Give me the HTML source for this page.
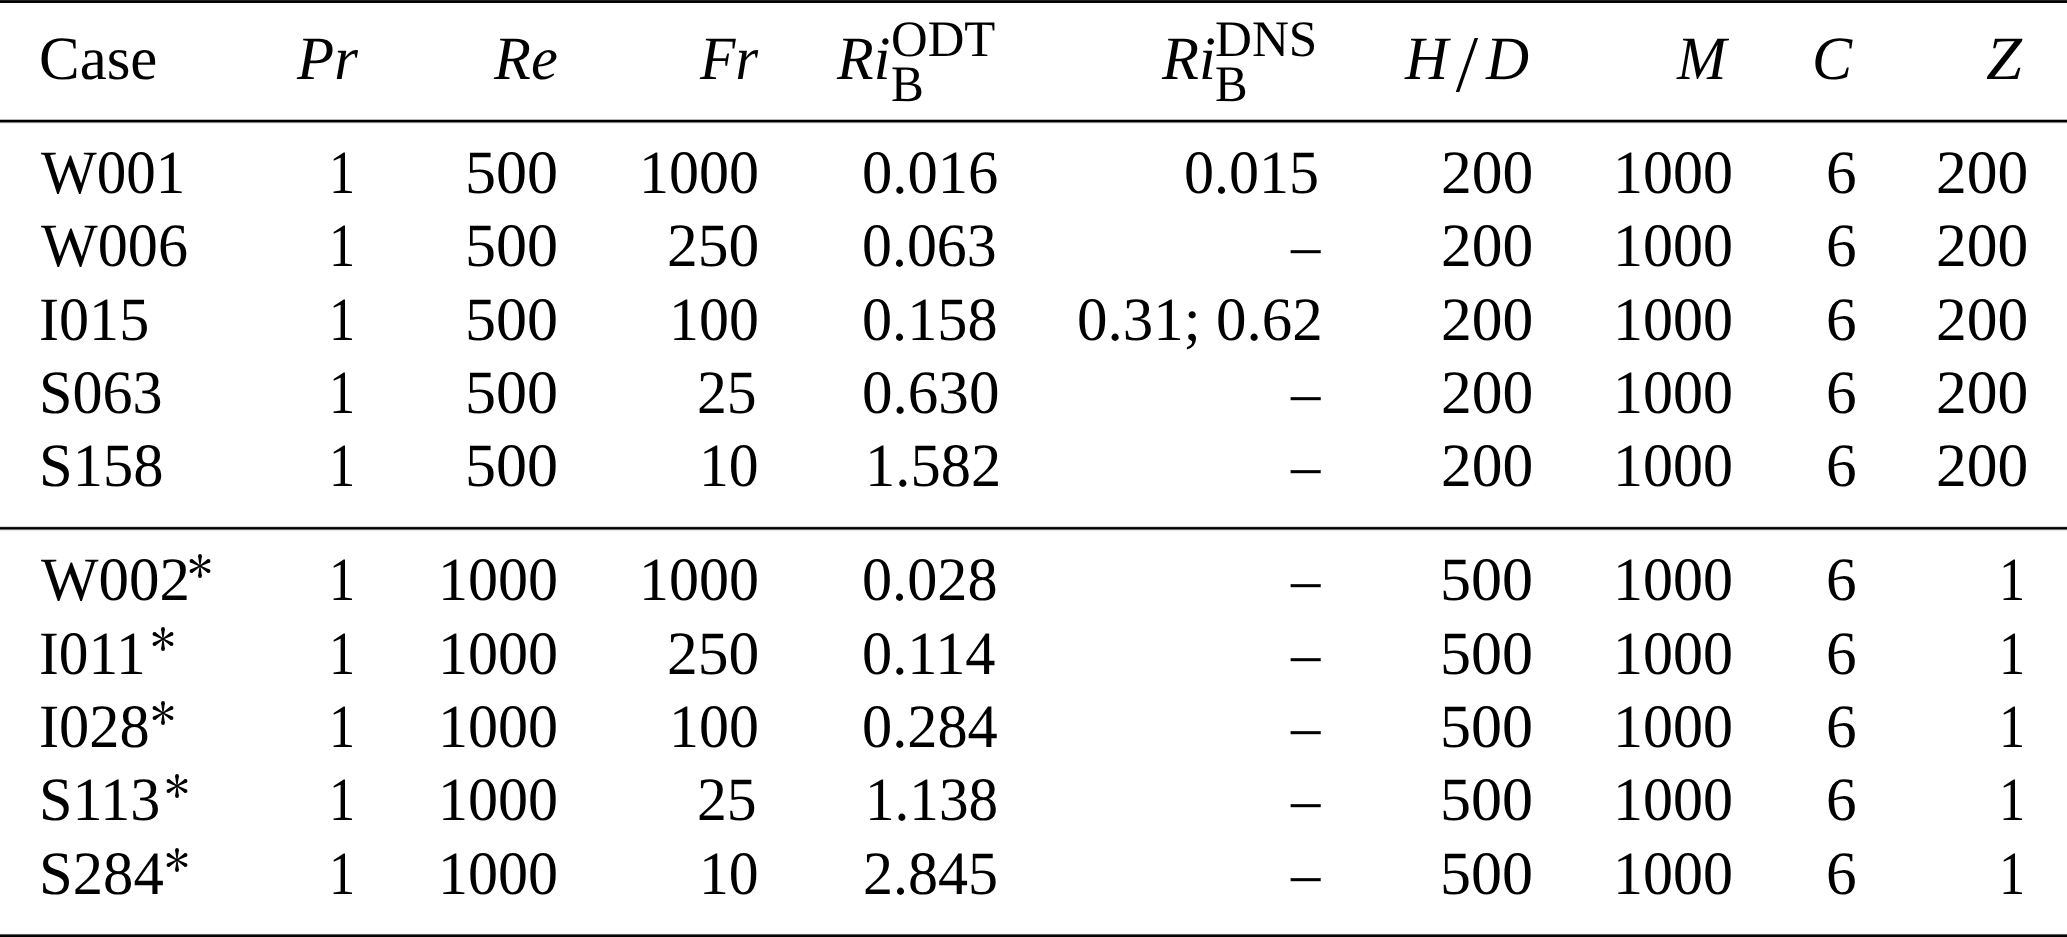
<!DOCTYPE html>
<html><head><meta charset="utf-8"><style>
html,body{margin:0;padding:0;background:#fff;}
body{width:2067px;height:937px;position:relative;overflow:hidden;font-family:"Liberation Serif",serif;color:#000;}
span{position:absolute;line-height:0;white-space:nowrap;text-rendering:geometricPrecision;}
.r{position:absolute;left:0;width:2067px;height:1px;}
.sl{position:absolute;left:0;top:0;}
.st{position:absolute;}
</style></head><body>
<div class="r" style="top:0px;background:rgb(34,34,34)"></div><div class="r" style="top:1px;background:rgb(0,0,0)"></div><div class="r" style="top:2px;background:rgb(10,10,10)"></div><div class="r" style="top:3px;background:rgb(250,250,250)"></div><div class="r" style="top:118px;background:rgb(253,253,253)"></div><div class="r" style="top:119px;background:rgb(184,184,184)"></div><div class="r" style="top:120px;background:rgb(0,0,0)"></div><div class="r" style="top:121px;background:rgb(0,0,0)"></div><div class="r" style="top:122px;background:rgb(128,128,128)"></div><div class="r" style="top:123px;background:rgb(240,240,240)"></div><div class="r" style="top:526px;background:rgb(216,216,216)"></div><div class="r" style="top:527px;background:rgb(24,24,24)"></div><div class="r" style="top:528px;background:rgb(0,0,0)"></div><div class="r" style="top:529px;background:rgb(112,112,112)"></div><div class="r" style="top:530px;background:rgb(232,232,232)"></div><div class="r" style="top:933px;background:rgb(248,248,248)"></div><div class="r" style="top:934px;background:rgb(96,96,96)"></div><div class="r" style="top:935px;background:rgb(6,6,6)"></div><div class="r" style="top:936px;background:rgb(0,0,0)"></div>
<svg class="sl" width="2067" height="937"><polygon points="1474.6,38.1 1478.1,38.1 1459.3,91.9 1455.8,91.9" fill="#000"/></svg>
<span style="left:38.70px;top:59.00px;font-size:61.5px;transform-origin:0 0;transform:scaleX(0.9905);">Case</span><span style="left:297.23px;top:59.00px;font-size:61.5px;font-style:italic;transform-origin:0 0;transform:scaleX(0.9885);">Pr</span><span style="left:493.82px;top:59.00px;font-size:61.5px;font-style:italic;transform-origin:0 0;transform:scaleX(0.9826);">Re</span><span style="left:700.01px;top:59.00px;font-size:61.5px;font-style:italic;transform-origin:0 0;transform:scaleX(0.9434);">Fr</span><span style="left:837.22px;top:59.00px;font-size:61.5px;font-style:italic;transform-origin:0 0;transform:scaleX(0.9751);">Ri</span><span style="left:891.42px;top:40.00px;font-size:51.0px;transform-origin:0 0;transform:scaleX(0.9953);">ODT</span><span style="left:890.78px;top:85.00px;font-size:51.0px;transform-origin:0 0;transform:scaleX(0.9648);">B</span><span style="left:1162.03px;top:59.00px;font-size:61.5px;font-style:italic;transform-origin:0 0;transform:scaleX(0.9845);">Ri</span><span style="left:1215.23px;top:40.00px;font-size:51.0px;transform-origin:0 0;transform:scaleX(1.0021);">DNS</span><span style="left:1215.29px;top:85.00px;font-size:51.0px;transform-origin:0 0;transform:scaleX(0.9582);">B</span><span style="left:1404.54px;top:59.00px;font-size:61.5px;font-style:italic;transform-origin:0 0;transform:scaleX(0.9721);">H</span><span style="left:1485.67px;top:59.00px;font-size:61.5px;font-style:italic;transform-origin:0 0;transform:scaleX(0.9689);">D</span><span style="left:1676.89px;top:59.00px;font-size:61.5px;font-style:italic;transform-origin:0 0;transform:scaleX(0.9640);">M</span><span style="left:1811.65px;top:59.00px;font-size:61.5px;font-style:italic;transform-origin:0 0;transform:scaleX(0.9773);">C</span><span style="left:1986.48px;top:59.00px;font-size:61.5px;font-style:italic;transform-origin:0 0;transform:scaleX(1.0500);">Z</span><span style="left:40.54px;top:173.00px;font-size:61.5px;transform-origin:0 0;transform:scaleX(0.9600);">W001</span><span style="left:329.08px;top:173.00px;font-size:61.5px;transform-origin:0 0;transform:scaleX(0.8500);">1</span><span style="left:465.48px;top:173.00px;font-size:61.5px;transform-origin:0 0;transform:scaleX(1.0086);">500</span><span style="left:638.92px;top:173.00px;font-size:61.5px;transform-origin:0 0;transform:scaleX(0.9758);">1000</span><span style="left:862.46px;top:173.00px;font-size:61.5px;transform-origin:0 0;transform:scaleX(0.9858);">0.016</span><span style="left:1183.98px;top:173.00px;font-size:61.5px;transform-origin:0 0;transform:scaleX(0.9765);">0.015</span><span style="left:1440.66px;top:173.00px;font-size:61.5px;transform-origin:0 0;transform:scaleX(0.9999);">200</span><span style="left:1612.72px;top:173.00px;font-size:61.5px;transform-origin:0 0;transform:scaleX(0.9758);">1000</span><span style="left:1826.47px;top:173.00px;font-size:61.5px;transform-origin:0 0;transform:scaleX(0.9960);">6</span><span style="left:1935.91px;top:173.00px;font-size:61.5px;transform-origin:0 0;transform:scaleX(0.9999);">200</span><span style="left:40.54px;top:246.00px;font-size:61.5px;transform-origin:0 0;transform:scaleX(0.9780);">W006</span><span style="left:329.08px;top:246.00px;font-size:61.5px;transform-origin:0 0;transform:scaleX(0.8500);">1</span><span style="left:465.48px;top:246.00px;font-size:61.5px;transform-origin:0 0;transform:scaleX(1.0086);">500</span><span style="left:666.76px;top:246.00px;font-size:61.5px;transform-origin:0 0;transform:scaleX(0.9999);">250</span><span style="left:862.49px;top:246.00px;font-size:61.5px;transform-origin:0 0;transform:scaleX(0.9733);">0.063</span><span style="left:1290.75px;top:246.00px;font-size:61.5px;transform-origin:0 0;transform:scaleX(0.9544);">–</span><span style="left:1440.66px;top:246.00px;font-size:61.5px;transform-origin:0 0;transform:scaleX(0.9999);">200</span><span style="left:1612.72px;top:246.00px;font-size:61.5px;transform-origin:0 0;transform:scaleX(0.9758);">1000</span><span style="left:1826.47px;top:246.00px;font-size:61.5px;transform-origin:0 0;transform:scaleX(0.9960);">6</span><span style="left:1935.91px;top:246.00px;font-size:61.5px;transform-origin:0 0;transform:scaleX(0.9999);">200</span><span style="left:39.21px;top:320.00px;font-size:61.5px;transform-origin:0 0;transform:scaleX(0.9778);">I015</span><span style="left:329.08px;top:320.00px;font-size:61.5px;transform-origin:0 0;transform:scaleX(0.8500);">1</span><span style="left:465.48px;top:320.00px;font-size:61.5px;transform-origin:0 0;transform:scaleX(1.0086);">500</span><span style="left:669.08px;top:320.00px;font-size:61.5px;transform-origin:0 0;transform:scaleX(0.9740);">100</span><span style="left:862.48px;top:320.00px;font-size:61.5px;transform-origin:0 0;transform:scaleX(0.9792);">0.158</span><span style="left:1076.74px;top:320.00px;font-size:61.5px;transform-origin:0 0;transform:scaleX(0.9916);">0.31; 0.62</span><span style="left:1440.66px;top:320.00px;font-size:61.5px;transform-origin:0 0;transform:scaleX(0.9999);">200</span><span style="left:1612.72px;top:320.00px;font-size:61.5px;transform-origin:0 0;transform:scaleX(0.9758);">1000</span><span style="left:1826.47px;top:320.00px;font-size:61.5px;transform-origin:0 0;transform:scaleX(0.9960);">6</span><span style="left:1935.91px;top:320.00px;font-size:61.5px;transform-origin:0 0;transform:scaleX(0.9999);">200</span><span style="left:38.81px;top:393.00px;font-size:61.5px;transform-origin:0 0;transform:scaleX(0.9779);">S063</span><span style="left:329.08px;top:393.00px;font-size:61.5px;transform-origin:0 0;transform:scaleX(0.8500);">1</span><span style="left:465.48px;top:393.00px;font-size:61.5px;transform-origin:0 0;transform:scaleX(1.0086);">500</span><span style="left:696.99px;top:393.00px;font-size:61.5px;transform-origin:0 0;transform:scaleX(0.9709);">25</span><span style="left:862.45px;top:393.00px;font-size:61.5px;transform-origin:0 0;transform:scaleX(0.9932);">0.630</span><span style="left:1290.75px;top:393.00px;font-size:61.5px;transform-origin:0 0;transform:scaleX(0.9544);">–</span><span style="left:1440.66px;top:393.00px;font-size:61.5px;transform-origin:0 0;transform:scaleX(0.9999);">200</span><span style="left:1612.72px;top:393.00px;font-size:61.5px;transform-origin:0 0;transform:scaleX(0.9758);">1000</span><span style="left:1826.47px;top:393.00px;font-size:61.5px;transform-origin:0 0;transform:scaleX(0.9960);">6</span><span style="left:1935.91px;top:393.00px;font-size:61.5px;transform-origin:0 0;transform:scaleX(0.9999);">200</span><span style="left:38.78px;top:466.00px;font-size:61.5px;transform-origin:0 0;transform:scaleX(0.9844);">S158</span><span style="left:329.08px;top:466.00px;font-size:61.5px;transform-origin:0 0;transform:scaleX(0.8500);">1</span><span style="left:465.48px;top:466.00px;font-size:61.5px;transform-origin:0 0;transform:scaleX(1.0086);">500</span><span style="left:699.25px;top:466.00px;font-size:61.5px;transform-origin:0 0;transform:scaleX(0.9704);">10</span><span style="left:864.70px;top:466.00px;font-size:61.5px;transform-origin:0 0;transform:scaleX(0.9838);">1.582</span><span style="left:1290.75px;top:466.00px;font-size:61.5px;transform-origin:0 0;transform:scaleX(0.9544);">–</span><span style="left:1440.66px;top:466.00px;font-size:61.5px;transform-origin:0 0;transform:scaleX(0.9999);">200</span><span style="left:1612.72px;top:466.00px;font-size:61.5px;transform-origin:0 0;transform:scaleX(0.9758);">1000</span><span style="left:1826.47px;top:466.00px;font-size:61.5px;transform-origin:0 0;transform:scaleX(0.9960);">6</span><span style="left:1935.91px;top:466.00px;font-size:61.5px;transform-origin:0 0;transform:scaleX(0.9999);">200</span><span style="left:40.54px;top:580.00px;font-size:61.5px;transform-origin:0 0;transform:scaleX(0.9913);">W002</span><svg class="st" style="left:185.92px;top:551.75px" width="28" height="28" viewBox="-14 -14 28 28"><g fill="#000"><path d="M0.45,0.00 L1.90,-10.05 L-1.90,-10.05 L-0.45,-0.00Z"/><circle cx="0.00" cy="-10.05" r="1.9"/><path d="M-0.45,0.00 L-1.90,10.05 L1.90,10.05 L0.45,-0.00Z"/><circle cx="0.00" cy="10.05" r="1.9"/><path d="M0.23,0.39 L9.52,-3.47 L7.58,-6.73 L-0.23,-0.39Z"/><circle cx="8.55" cy="-5.10" r="1.9"/><path d="M-0.23,0.39 L7.58,6.73 L9.52,3.47 L0.23,-0.39Z"/><circle cx="8.55" cy="5.10" r="1.9"/><path d="M0.23,-0.39 L-7.58,-6.73 L-9.52,-3.47 L-0.23,0.39Z"/><circle cx="-8.55" cy="-5.10" r="1.9"/><path d="M-0.23,-0.39 L-9.52,3.47 L-7.58,6.73 L0.23,0.39Z"/><circle cx="-8.55" cy="5.10" r="1.9"/></g></svg><span style="left:329.08px;top:580.00px;font-size:61.5px;transform-origin:0 0;transform:scaleX(0.8500);">1</span><span style="left:438.42px;top:580.00px;font-size:61.5px;transform-origin:0 0;transform:scaleX(0.9758);">1000</span><span style="left:638.92px;top:580.00px;font-size:61.5px;transform-origin:0 0;transform:scaleX(0.9758);">1000</span><span style="left:862.48px;top:580.00px;font-size:61.5px;transform-origin:0 0;transform:scaleX(0.9792);">0.028</span><span style="left:1290.75px;top:580.00px;font-size:61.5px;transform-origin:0 0;transform:scaleX(0.9544);">–</span><span style="left:1439.88px;top:580.00px;font-size:61.5px;transform-origin:0 0;transform:scaleX(1.0086);">500</span><span style="left:1612.72px;top:580.00px;font-size:61.5px;transform-origin:0 0;transform:scaleX(0.9758);">1000</span><span style="left:1826.47px;top:580.00px;font-size:61.5px;transform-origin:0 0;transform:scaleX(0.9960);">6</span><span style="left:1998.53px;top:580.00px;font-size:61.5px;transform-origin:0 0;transform:scaleX(0.8500);">1</span><span style="left:39.24px;top:654.00px;font-size:61.5px;transform-origin:0 0;transform:scaleX(0.9648);">I011</span><svg class="st" style="left:149.08px;top:625.20px" width="28" height="28" viewBox="-14 -14 28 28"><g fill="#000"><path d="M0.45,0.00 L1.90,-10.05 L-1.90,-10.05 L-0.45,-0.00Z"/><circle cx="0.00" cy="-10.05" r="1.9"/><path d="M-0.45,0.00 L-1.90,10.05 L1.90,10.05 L0.45,-0.00Z"/><circle cx="0.00" cy="10.05" r="1.9"/><path d="M0.23,0.39 L9.52,-3.47 L7.58,-6.73 L-0.23,-0.39Z"/><circle cx="8.55" cy="-5.10" r="1.9"/><path d="M-0.23,0.39 L7.58,6.73 L9.52,3.47 L0.23,-0.39Z"/><circle cx="8.55" cy="5.10" r="1.9"/><path d="M0.23,-0.39 L-7.58,-6.73 L-9.52,-3.47 L-0.23,0.39Z"/><circle cx="-8.55" cy="-5.10" r="1.9"/><path d="M-0.23,-0.39 L-9.52,3.47 L-7.58,6.73 L0.23,0.39Z"/><circle cx="-8.55" cy="5.10" r="1.9"/></g></svg><span style="left:329.08px;top:654.00px;font-size:61.5px;transform-origin:0 0;transform:scaleX(0.8500);">1</span><span style="left:438.42px;top:654.00px;font-size:61.5px;transform-origin:0 0;transform:scaleX(0.9758);">1000</span><span style="left:666.76px;top:654.00px;font-size:61.5px;transform-origin:0 0;transform:scaleX(0.9999);">250</span><span style="left:862.47px;top:654.00px;font-size:61.5px;transform-origin:0 0;transform:scaleX(0.9813);">0.114</span><span style="left:1290.75px;top:654.00px;font-size:61.5px;transform-origin:0 0;transform:scaleX(0.9544);">–</span><span style="left:1439.88px;top:654.00px;font-size:61.5px;transform-origin:0 0;transform:scaleX(1.0086);">500</span><span style="left:1612.72px;top:654.00px;font-size:61.5px;transform-origin:0 0;transform:scaleX(0.9758);">1000</span><span style="left:1826.47px;top:654.00px;font-size:61.5px;transform-origin:0 0;transform:scaleX(0.9960);">6</span><span style="left:1998.53px;top:654.00px;font-size:61.5px;transform-origin:0 0;transform:scaleX(0.8500);">1</span><span style="left:39.21px;top:727.00px;font-size:61.5px;transform-origin:0 0;transform:scaleX(0.9812);">I028</span><svg class="st" style="left:149.08px;top:698.65px" width="28" height="28" viewBox="-14 -14 28 28"><g fill="#000"><path d="M0.45,0.00 L1.90,-10.05 L-1.90,-10.05 L-0.45,-0.00Z"/><circle cx="0.00" cy="-10.05" r="1.9"/><path d="M-0.45,0.00 L-1.90,10.05 L1.90,10.05 L0.45,-0.00Z"/><circle cx="0.00" cy="10.05" r="1.9"/><path d="M0.23,0.39 L9.52,-3.47 L7.58,-6.73 L-0.23,-0.39Z"/><circle cx="8.55" cy="-5.10" r="1.9"/><path d="M-0.23,0.39 L7.58,6.73 L9.52,3.47 L0.23,-0.39Z"/><circle cx="8.55" cy="5.10" r="1.9"/><path d="M0.23,-0.39 L-7.58,-6.73 L-9.52,-3.47 L-0.23,0.39Z"/><circle cx="-8.55" cy="-5.10" r="1.9"/><path d="M-0.23,-0.39 L-9.52,3.47 L-7.58,6.73 L0.23,0.39Z"/><circle cx="-8.55" cy="5.10" r="1.9"/></g></svg><span style="left:329.08px;top:727.00px;font-size:61.5px;transform-origin:0 0;transform:scaleX(0.8500);">1</span><span style="left:438.42px;top:727.00px;font-size:61.5px;transform-origin:0 0;transform:scaleX(0.9758);">1000</span><span style="left:669.08px;top:727.00px;font-size:61.5px;transform-origin:0 0;transform:scaleX(0.9740);">100</span><span style="left:862.47px;top:727.00px;font-size:61.5px;transform-origin:0 0;transform:scaleX(0.9813);">0.284</span><span style="left:1290.75px;top:727.00px;font-size:61.5px;transform-origin:0 0;transform:scaleX(0.9544);">–</span><span style="left:1439.88px;top:727.00px;font-size:61.5px;transform-origin:0 0;transform:scaleX(1.0086);">500</span><span style="left:1612.72px;top:727.00px;font-size:61.5px;transform-origin:0 0;transform:scaleX(0.9758);">1000</span><span style="left:1826.47px;top:727.00px;font-size:61.5px;transform-origin:0 0;transform:scaleX(0.9960);">6</span><span style="left:1998.53px;top:727.00px;font-size:61.5px;transform-origin:0 0;transform:scaleX(0.8500);">1</span><span style="left:38.81px;top:800.00px;font-size:61.5px;transform-origin:0 0;transform:scaleX(0.9779);">S113</span><svg class="st" style="left:162.53px;top:772.10px" width="28" height="28" viewBox="-14 -14 28 28"><g fill="#000"><path d="M0.45,0.00 L1.90,-10.05 L-1.90,-10.05 L-0.45,-0.00Z"/><circle cx="0.00" cy="-10.05" r="1.9"/><path d="M-0.45,0.00 L-1.90,10.05 L1.90,10.05 L0.45,-0.00Z"/><circle cx="0.00" cy="10.05" r="1.9"/><path d="M0.23,0.39 L9.52,-3.47 L7.58,-6.73 L-0.23,-0.39Z"/><circle cx="8.55" cy="-5.10" r="1.9"/><path d="M-0.23,0.39 L7.58,6.73 L9.52,3.47 L0.23,-0.39Z"/><circle cx="8.55" cy="5.10" r="1.9"/><path d="M0.23,-0.39 L-7.58,-6.73 L-9.52,-3.47 L-0.23,0.39Z"/><circle cx="-8.55" cy="-5.10" r="1.9"/><path d="M-0.23,-0.39 L-9.52,3.47 L-7.58,6.73 L0.23,0.39Z"/><circle cx="-8.55" cy="5.10" r="1.9"/></g></svg><span style="left:329.08px;top:800.00px;font-size:61.5px;transform-origin:0 0;transform:scaleX(0.8500);">1</span><span style="left:438.42px;top:800.00px;font-size:61.5px;transform-origin:0 0;transform:scaleX(0.9758);">1000</span><span style="left:696.99px;top:800.00px;font-size:61.5px;transform-origin:0 0;transform:scaleX(0.9709);">25</span><span style="left:864.82px;top:800.00px;font-size:61.5px;transform-origin:0 0;transform:scaleX(0.9620);">1.138</span><span style="left:1290.75px;top:800.00px;font-size:61.5px;transform-origin:0 0;transform:scaleX(0.9544);">–</span><span style="left:1439.88px;top:800.00px;font-size:61.5px;transform-origin:0 0;transform:scaleX(1.0086);">500</span><span style="left:1612.72px;top:800.00px;font-size:61.5px;transform-origin:0 0;transform:scaleX(0.9758);">1000</span><span style="left:1826.47px;top:800.00px;font-size:61.5px;transform-origin:0 0;transform:scaleX(0.9960);">6</span><span style="left:1998.53px;top:800.00px;font-size:61.5px;transform-origin:0 0;transform:scaleX(0.8500);">1</span><span style="left:38.77px;top:874.00px;font-size:61.5px;transform-origin:0 0;transform:scaleX(0.9866);">S284</span><svg class="st" style="left:162.53px;top:845.55px" width="28" height="28" viewBox="-14 -14 28 28"><g fill="#000"><path d="M0.45,0.00 L1.90,-10.05 L-1.90,-10.05 L-0.45,-0.00Z"/><circle cx="0.00" cy="-10.05" r="1.9"/><path d="M-0.45,0.00 L-1.90,10.05 L1.90,10.05 L0.45,-0.00Z"/><circle cx="0.00" cy="10.05" r="1.9"/><path d="M0.23,0.39 L9.52,-3.47 L7.58,-6.73 L-0.23,-0.39Z"/><circle cx="8.55" cy="-5.10" r="1.9"/><path d="M-0.23,0.39 L7.58,6.73 L9.52,3.47 L0.23,-0.39Z"/><circle cx="8.55" cy="5.10" r="1.9"/><path d="M0.23,-0.39 L-7.58,-6.73 L-9.52,-3.47 L-0.23,0.39Z"/><circle cx="-8.55" cy="-5.10" r="1.9"/><path d="M-0.23,-0.39 L-9.52,3.47 L-7.58,6.73 L0.23,0.39Z"/><circle cx="-8.55" cy="5.10" r="1.9"/></g></svg><span style="left:329.08px;top:874.00px;font-size:61.5px;transform-origin:0 0;transform:scaleX(0.8500);">1</span><span style="left:438.42px;top:874.00px;font-size:61.5px;transform-origin:0 0;transform:scaleX(0.9758);">1000</span><span style="left:699.25px;top:874.00px;font-size:61.5px;transform-origin:0 0;transform:scaleX(0.9704);">10</span><span style="left:862.50px;top:874.00px;font-size:61.5px;transform-origin:0 0;transform:scaleX(0.9764);">2.845</span><span style="left:1290.75px;top:874.00px;font-size:61.5px;transform-origin:0 0;transform:scaleX(0.9544);">–</span><span style="left:1439.88px;top:874.00px;font-size:61.5px;transform-origin:0 0;transform:scaleX(1.0086);">500</span><span style="left:1612.72px;top:874.00px;font-size:61.5px;transform-origin:0 0;transform:scaleX(0.9758);">1000</span><span style="left:1826.47px;top:874.00px;font-size:61.5px;transform-origin:0 0;transform:scaleX(0.9960);">6</span><span style="left:1998.53px;top:874.00px;font-size:61.5px;transform-origin:0 0;transform:scaleX(0.8500);">1</span>
</body></html>
